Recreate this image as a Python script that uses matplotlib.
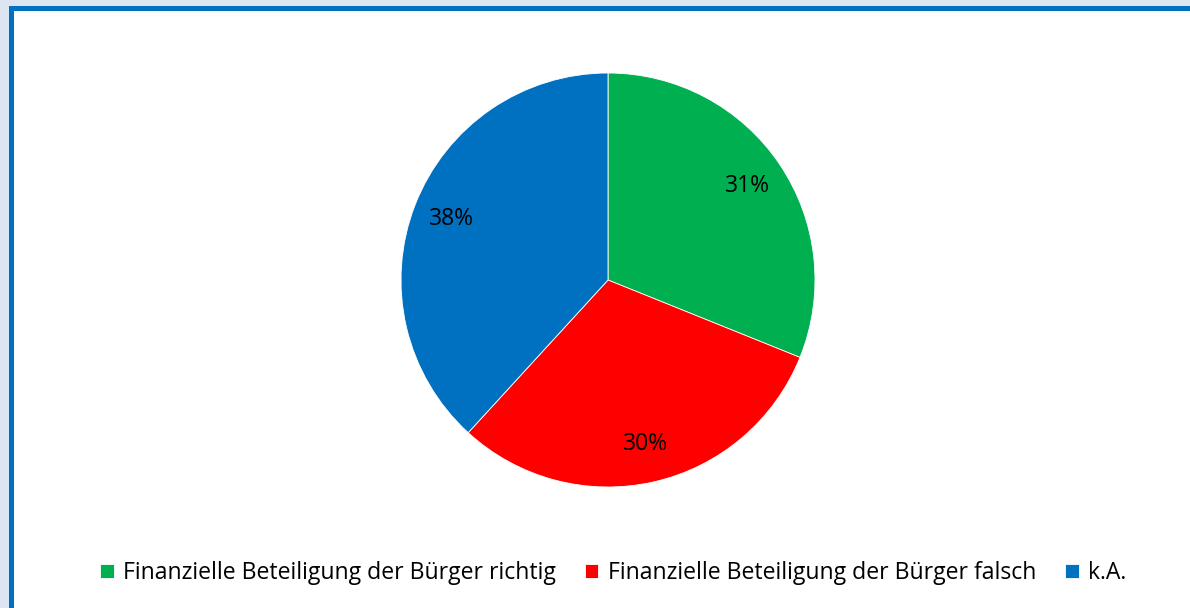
import matplotlib
matplotlib.use("Agg")
import matplotlib.pyplot as plt
from matplotlib.patches import Rectangle

# datos del grafico
categorias = ["Finanzielle Beteiligung der Bürger richtig",
              "Finanzielle Beteiligung der Bürger falsch",
              "k.A."]
valores = [31.1, 30.7, 38.2]
etiquetas = ["31%", "30%", "38%"]
colores = ["#00B050", "#FF0000", "#0070C0"]

plt.rcParams["font.family"] = ["Open Sans", "DejaVu Sans"]

fig = plt.figure(figsize=(11.9, 6.08), dpi=100)
fig.patch.set_facecolor("#DCE6F2")

# marco azul
marco = Rectangle((10.5 / 1190, -0.05), 1.1, 1 - 8.5 / 608 + 0.05,
                  transform=fig.transFigure, facecolor="white",
                  edgecolor="#0070C0", linewidth=3.6, zorder=0)
fig.patches.append(marco)

ax = fig.add_axes([401 / 1190, (608 - 487) / 608, 414 / 1190, 414 / 608])
ax.set_zorder(2)
ax.set_facecolor("none")

wedges, textos, pcts = ax.pie(valores, colors=colores, startangle=90,
                              counterclock=False, radius=1,
                              autopct="%1.0f%%", pctdistance=0.81,
                              wedgeprops=dict(edgecolor="white", linewidth=0.6))
for t, e in zip(pcts, etiquetas):
    t.set_text(e)
    t.set_fontsize(16.5)
    t.set_color("black")
ax.set_xlim(-1, 1)
ax.set_ylim(-1, 1)
ax.set_aspect("equal")
ax.axis("off")

leg = fig.legend(wedges, categorias, loc="center", ncol=3,
                 bbox_to_anchor=(613 / 1190, 1 - 573 / 608),
                 frameon=False, fontsize=16.6, handlelength=0.6,
                 handleheight=0.6, handletextpad=0.4, columnspacing=1.25)
leg.set_zorder(3)

fig.savefig("out.png", dpi=100, facecolor=fig.get_facecolor())
